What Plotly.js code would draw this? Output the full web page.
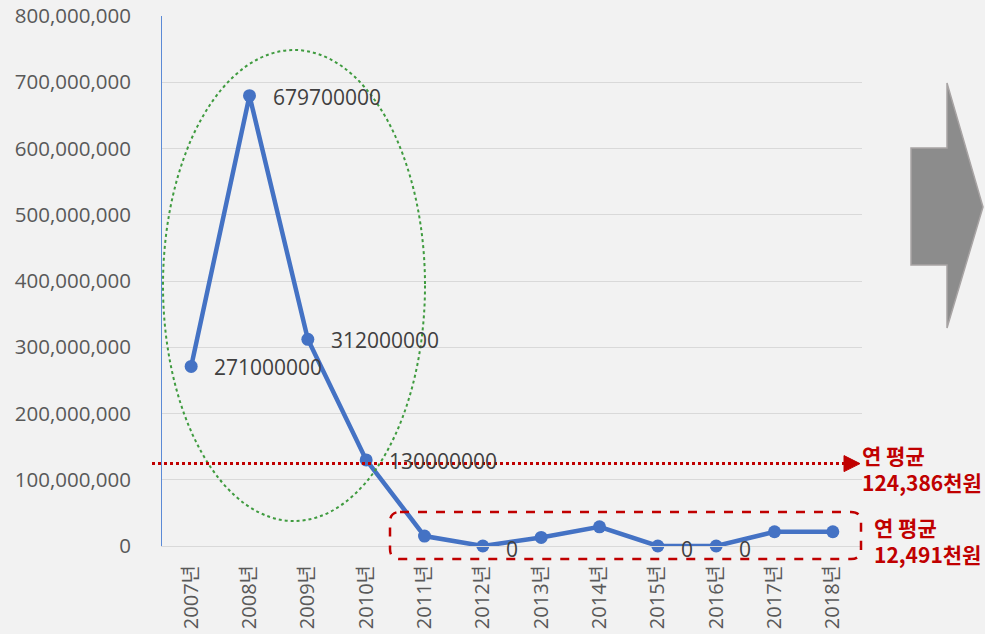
<!DOCTYPE html>
<html><head><meta charset="utf-8">
<script src="https://cdn.plot.ly/plotly-3.0.1.min.js"></script>
<style>html,body{margin:0;padding:0;background:#f2f2f2;}#chart{width:985px;height:634px;}</style>
</head><body><div id="chart"></div>
<script>
const years = ['2007년','2008년','2009년','2010년','2011년','2012년','2013년','2014년','2015년','2016년','2017년','2018년'];
const values = [271000000, 679700000, 312000000, 130000000, 15000000, 0, 12928000, 29000000, 0, 0, 21500000, 21500000];
const pointLabels = ['271000000','679700000','312000000','130000000','','0','','','0','0','',''];
const avgAllText = '연 평균<br>124,386천원';
const avgRecentText = '연 평균<br>12,491천원';

const W = 985, H = 634, L = 162, R = 123, T = 16, B = 88;
const pw = W - L - R, ph = H - T - B;
const px = x => (x - L) / pw;
const py = y => (H - B - y) / ph;
const yMax = 800000000;
const avgAll = values.reduce((a, b) => a + b, 0) / values.length;

const red = '#C00000';
const fontFam = '"Open Sans", "Noto Sans CJK KR", sans-serif';

const annotations = [];
years.forEach((yr, i) => {
  if (pointLabels[i] !== '') {
    annotations.push({x: yr, y: values[i], xref: 'x', yref: 'y', text: pointLabels[i], showarrow: false,
      xanchor: 'left', yanchor: 'middle', xshift: 21, yshift: (values[i] === 0 ? -3 : -1),
      font: {size: 21, color: '#404040', family: fontFam}});
  }
});
annotations.push({xref: 'paper', yref: 'paper', x: px(860), y: py(468), text: avgAllText, showarrow: false,
  xanchor: 'left', yanchor: 'middle', align: 'left',
  font: {size: 21, color: red, family: '"Noto Sans CJK KR", sans-serif', weight: 'bold'}});
annotations.push({xref: 'paper', yref: 'paper', x: px(872), y: py(540), text: avgRecentText, showarrow: false,
  xanchor: 'left', yanchor: 'middle', align: 'left',
  font: {size: 21, color: red, family: '"Noto Sans CJK KR", sans-serif', weight: 'bold'}});

function poly(pts) {
  return pts.map((p, i) => (i ? 'L' : 'M') + px(p[0]) + ',' + py(p[1])).join(' ') + ' Z';
}
function roundRect(x0, y0, x1, y1, r) {
  const P = (x, y) => px(x) + ',' + py(y);
  return 'M' + P(x0 + r, y0) + ' L' + P(x1 - r, y0) + ' Q' + P(x1, y0) + ' ' + P(x1, y0 + r) +
    ' L' + P(x1, y1 - r) + ' Q' + P(x1, y1) + ' ' + P(x1 - r, y1) +
    ' L' + P(x0 + r, y1) + ' Q' + P(x0, y1) + ' ' + P(x0, y1 - r) +
    ' L' + P(x0, y0 + r) + ' Q' + P(x0, y0) + ' ' + P(x0 + r, y0) + ' Z';
}
const avgPy = avgAll / yMax;
const shapes = [
  {type: 'circle', xref: 'paper', yref: 'paper', x0: px(163), x1: px(425), y0: py(521), y1: py(50),
    line: {color: '#3f9b3f', width: 2, dash: 'dot'}, layer: 'above'},
  {type: 'line', xref: 'paper', yref: 'paper', x0: px(152), x1: px(846), y0: avgPy, y1: avgPy,
    line: {color: red, width: 3, dash: 'dot'}, layer: 'above'},
  {type: 'path', xref: 'paper', yref: 'paper',
    path: 'M' + px(844) + ',' + (avgPy + 8 / ph) + ' L' + px(860) + ',' + avgPy + ' L' + px(844) + ',' + (avgPy - 8 / ph) + ' Z',
    fillcolor: red, line: {color: red, width: 1}, layer: 'above'},
  {type: 'path', xref: 'paper', yref: 'paper', path: roundRect(390, 512, 861, 559, 10),
    line: {color: red, width: 2.5, dash: 'dash'}, layer: 'above'},
  {type: 'path', xref: 'paper', yref: 'paper',
    path: poly([[911, 148], [947, 148], [947, 83], [983, 207], [947, 328], [947, 265], [911, 265]]),
    fillcolor: '#8c8c8c', line: {color: '#a8a4a4', width: 1.5}, layer: 'above'}
];

const trace = {
  x: years, y: values, type: 'scatter', mode: 'lines+markers',
  line: {color: '#4472C4', width: 4.5},
  marker: {color: '#4472C4', size: 13},
  hoverinfo: 'x+y', cliponaxis: false
};

const layout = {
  width: W, height: H,
  margin: {l: L, r: R, t: T, b: B, pad: 0},
  paper_bgcolor: '#f2f2f2', plot_bgcolor: '#f2f2f2',
  showlegend: false,
  font: {family: fontFam, color: '#595959', size: 20},
  xaxis: {type: 'category', range: [-0.5, 11.5], tickangle: -90, showgrid: false,
    showline: true, linecolor: '#d9d9d9', linewidth: 1, ticks: '', ticklabelstandoff: 10,
    tickfont: {size: 20, color: '#595959', family: fontFam}, fixedrange: true},
  yaxis: {range: [0, yMax], dtick: 100000000, tickformat: ',d', showgrid: true, gridcolor: '#d9d9d9',
    gridwidth: 1, zeroline: true, zerolinecolor: '#d9d9d9', showline: true, linecolor: '#5b8ad6', linewidth: 1,
    ticks: '', ticklabelstandoff: 26, tickfont: {size: 20.5, color: '#595959', family: fontFam}, fixedrange: true},
  shapes: shapes,
  annotations: annotations
};

Plotly.newPlot('chart', [trace], layout, {displayModeBar: false, staticPlot: true});
</script></body></html>
